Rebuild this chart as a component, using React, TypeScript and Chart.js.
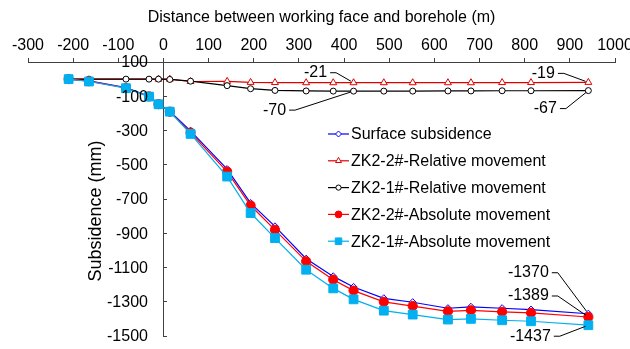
import React, { useEffect, useRef } from 'react';
import { Chart, registerables } from 'chart.js';
import { drawPoint } from 'chart.js/helpers';

Chart.register(...registerables);

const FONT = "'Liberation Sans', Arial, sans-serif";

const X_TITLE = 'Distance between working face and borehole (m)';
const Y_TITLE = 'Subsidence (mm)';
const X_MIN = -300;
const X_MAX = 1000;
const X_STEP = 100;
const Y_MIN = -1500;
const Y_MAX = 100;
const Y_STEP = 200;

const seriesNames = [
  'Surface subsidence',
  'ZK2-2#-Relative movement',
  'ZK2-1#-Relative movement',
  'ZK2-2#-Absolute movement',
  'ZK2-1#-Absolute movement',
];

// distance (m) for surface / absolute / ZK2-1# relative series
const distance = [-210, -165, -83, -32, -11, 14, 60, 141, 193, 247, 316, 376, 421, 488, 552, 630, 681, 750, 814, 941];
// distance (m) for ZK2-2# relative series
const distanceZk22Rel = [-210, -11, 14, 60, 141, 193, 247, 316, 376, 421, 488, 552, 630, 681, 750, 814, 941];

const surfaceSubsidence = [0, -10, -50, -100, -145, -188, -302, -526, -724, -860, -1049, -1152, -1214, -1280, -1303, -1338, -1330, -1338, -1346, -1370];
const zk22Relative = [0, 0, 0, -14, -13, -19, -20, -21, -21, -21, -21, -21, -21, -21, -20, -20, -19];
const zk21Relative = [0, 0, 0, 0, 0, -2, -12, -38, -56, -66, -69, -70, -70, -70, -70, -69, -69, -68, -68, -67];
const zk22Absolute = [0, -12, -52, -101, -146, -190, -312, -540, -738, -880, -1064, -1171, -1235, -1301, -1325, -1356, -1350, -1359, -1365, -1389];
const zk21Absolute = [0, -14, -53, -102, -147, -190, -320, -569, -782, -928, -1113, -1222, -1286, -1352, -1375, -1404, -1400, -1408, -1414, -1437];

const colors = ['#0000FF', '#E00000', '#000000', '#FF0000', '#00B0F0'];

const markerStyles = [
  { pointStyle: 'rectRot', radius: 3.6, fill: '#FFFFFF', legendRadius: 3 },
  { pointStyle: 'triangle', radius: 4, fill: '#FFFFFF', legendRadius: 3.4 },
  { pointStyle: 'circle', radius: 3, fill: '#FFFFFF', legendRadius: 2.6 },
  { pointStyle: 'circle', radius: 4.6, fill: '#FF0000', legendRadius: 3.4 },
  { pointStyle: 'rect', radius: 6.2, fill: '#00B0F0', legendRadius: 4.6 },
];

// value labels: dataset index, point index, text offset from point (px)
const valueLabels = [
  { ds: 1, idx: 9, dx: -38, dy: -10 },
  { ds: 2, idx: 12, dx: -79, dy: 19 },
  { ds: 1, idx: 16, dx: -45, dy: -9 },
  { ds: 2, idx: 19, dx: -43, dy: 18 },
  { ds: 0, idx: 19, dx: -60, dy: -41 },
  { ds: 3, idx: 19, dx: -60, dy: -21 },
  { ds: 4, idx: 19, dx: -58, dy: 11 },
];

const toPts = (xs: number[], ys: number[]) => ys.map((y, i) => ({ x: xs[i], y }));

const yAxisPlugin = {
  id: 'yAxisPlugin',
  afterDraw(chart: any) {
    const { ctx, chartArea, scales } = chart;
    const x0 = scales.x.getPixelForValue(0);
    ctx.save();
    // tick labels
    ctx.font = `16px ${FONT}`;
    ctx.fillStyle = '#000';
    ctx.textAlign = 'right';
    ctx.textBaseline = 'middle';
    scales.y.ticks.forEach((t: any) => {
      ctx.fillText(String(t.value), x0 - 15.5, scales.y.getPixelForValue(t.value) + 1);
    });
    // title
    ctx.translate(x0 - 67.5, (chartArea.top + chartArea.bottom) / 2 + 12);
    ctx.rotate(-Math.PI / 2);
    ctx.font = `18px ${FONT}`;
    ctx.textAlign = 'center';
    ctx.fillText(Y_TITLE, 0, 0);
    ctx.restore();
  },
};

const valueLabelPlugin = {
  id: 'valueLabelPlugin',
  afterDatasetsDraw(chart: any) {
    const { ctx } = chart;
    ctx.save();
    ctx.font = `16px ${FONT}`;
    ctx.fillStyle = '#000';
    ctx.strokeStyle = '#000';
    ctx.lineWidth = 1;
    ctx.textAlign = 'center';
    ctx.textBaseline = 'middle';
    valueLabels.forEach((l) => {
      const pt = chart.getDatasetMeta(l.ds).data[l.idx];
      const raw = chart.data.datasets[l.ds].data[l.idx] as any;
      const text = String(raw.y);
      const tx = pt.x + l.dx;
      const ty = pt.y + l.dy;
      ctx.fillText(text, tx, ty);
      const w = ctx.measureText(text).width;
      const sx = tx + w / 2 + 3;
      const mx = sx + 6;
      const ang = Math.atan2(pt.y - ty, pt.x - mx);
      const ex = pt.x - Math.cos(ang) * 3;
      const ey = pt.y - Math.sin(ang) * 3;
      ctx.beginPath();
      ctx.moveTo(sx, ty);
      ctx.lineTo(mx, ty);
      ctx.lineTo(ex, ey);
      ctx.stroke();
    });
    ctx.restore();
  },
};

const legendPlugin = {
  id: 'customLegend',
  afterDraw(chart: any) {
    const { ctx, chartArea } = chart;
    const lx = chartArea.left + 300;
    const top = chartArea.top + 72;
    const rowH = 26.8;
    ctx.save();
    ctx.font = `16px ${FONT}`;
    ctx.textAlign = 'left';
    ctx.textBaseline = 'middle';
    seriesNames.forEach((name, i) => {
      const y = top + i * rowH;
      ctx.strokeStyle = colors[i];
      ctx.lineWidth = 1.2;
      ctx.beginPath();
      ctx.moveTo(lx, y);
      ctx.lineTo(lx + 21, y);
      ctx.stroke();
      const m = markerStyles[i];
      ctx.fillStyle = m.fill;
      ctx.strokeStyle = colors[i];
      ctx.lineWidth = 1;
      drawPoint(ctx, { pointStyle: m.pointStyle as any, rotation: 0, radius: m.legendRadius, borderWidth: 1 }, lx + 10.5, y);
      ctx.fillStyle = '#000';
      ctx.fillText(name, lx + 23, y + 1);
    });
    ctx.restore();
  },
};

export default function App() {
  const ref = useRef<HTMLCanvasElement | null>(null);

  useEffect(() => {
    if (!ref.current) return;
    const seriesData = [
      toPts(distance, surfaceSubsidence),
      toPts(distanceZk22Rel, zk22Relative),
      toPts(distance, zk21Relative),
      toPts(distance, zk22Absolute),
      toPts(distance, zk21Absolute),
    ];
    const datasets = seriesData.map((data, i) => ({
      label: seriesNames[i],
      data,
      borderColor: colors[i],
      backgroundColor: markerStyles[i].fill,
      borderWidth: 1.2,
      pointStyle: markerStyles[i].pointStyle as any,
      pointRadius: markerStyles[i].radius,
      pointBackgroundColor: markerStyles[i].fill,
      pointBorderColor: colors[i],
      pointBorderWidth: 1,
      tension: 0,
      fill: false,
      order: 5 - i,
    }));

    const tickFont = { family: FONT, size: 16 };
    const axisColor = '#404040';

    const chart = new Chart(ref.current, {
      type: 'line',
      data: { datasets },
      options: {
        responsive: false,
        animation: false,
        events: [],
        layout: { padding: { left: 28, top: 0, right: 15, bottom: 13 } },
        plugins: {
          legend: { display: false },
          tooltip: { enabled: false },
        },
        scales: {
          x: {
            type: 'linear',
            position: 'top',
            min: X_MIN,
            max: X_MAX,
            afterFit: (s: any) => {
              s.height = 62;
              s.paddingLeft = 0;
              s.paddingRight = 0;
            },
            ticks: {
              stepSize: X_STEP,
              autoSkip: false,
              maxRotation: 0,
              minRotation: 0,
              padding: 3,
              color: '#000',
              font: tickFont,
              callback: (v: any) => String(v),
            },
            grid: { drawOnChartArea: false, drawTicks: true, tickLength: 4, color: axisColor },
            border: { display: true, color: axisColor, width: 1 },
            title: {
              display: true,
              text: X_TITLE,
              color: '#000',
              font: { family: FONT, size: 16 },
              padding: { top: 8.4, bottom: 4 },
            },
          },
          y: {
            type: 'linear',
            position: { x: 0 } as any,
            min: Y_MIN,
            max: Y_MAX,
            afterFit: (s: any) => {
              s.paddingTop = 0;
              s.paddingBottom = 0;
            },
            ticks: {
              stepSize: Y_STEP,
              display: false,
            },
            grid: { drawOnChartArea: false, drawTicks: true, tickLength: -4, color: axisColor },
            border: { display: true, color: axisColor, width: 1 },
          },
        },
      } as any,
      plugins: [valueLabelPlugin, legendPlugin, yAxisPlugin],
    });
    return () => chart.destroy();
  }, []);

  return (
    <div style={{ position: 'absolute', left: 0, top: 0, width: 630, height: 349, overflow: 'hidden', background: '#fff' }}>
      <canvas ref={ref} width={630} height={349} style={{ display: 'block' }} />
    </div>
  );
}
